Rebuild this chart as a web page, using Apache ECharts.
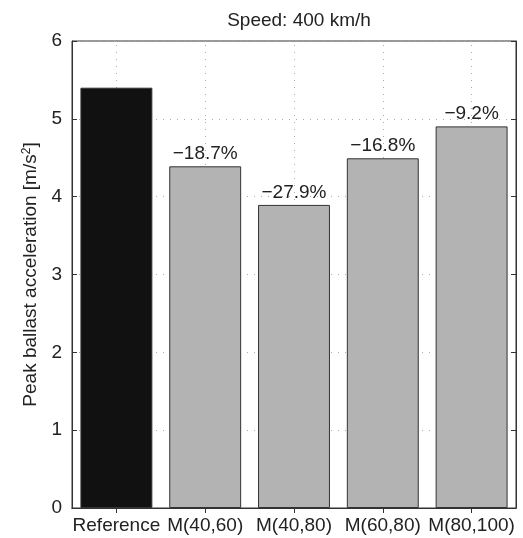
<!DOCTYPE html>
<html><head><meta charset="utf-8">
<script src="https://cdn.jsdelivr.net/npm/echarts@6/dist/echarts.min.js"></script>
<style>html,body{margin:0;padding:0;background:#fff}#c{width:523px;height:538px}</style>
</head><body><div id="c"></div>
<script>
const categories = ['Reference', 'M(40,60)', 'M(40,80)', 'M(60,80)', 'M(80,100)'];
const values = [5.40, 4.39, 3.894, 4.493, 4.903];
const pctLabels = ['', '\u221218.7%', '\u221227.9%', '\u221216.8%', '\u22129.2%'];
const yTicks = [0, 1, 2, 3, 4, 5, 6];

const chart = echarts.init(document.getElementById('c'));
const font = 'Liberation Sans, Arial, sans-serif';
const fs = 19;
const txt = '#222';
const dotStyle = {color: '#aaa', type: [1, 6], width: 1};
chart.setOption({
  animation: false,
  title: {text: 'Speed: 400 km/h', left: 294, textAlign: 'center', top: 6,
    textStyle: {fontFamily: font, fontSize: fs, fontWeight: 'normal', color: txt}},
  grid: {left: 72, right: 7, top: 41, bottom: 30, show: true, borderColor: '#333', borderWidth: 1, backgroundColor: 'transparent'},
  xAxis: [{
    type: 'category', data: categories, position: 'bottom',
    axisLine: {show: true, lineStyle: {color: '#333'}},
    axisTick: {show: true, inside: true, alignWithLabel: true, length: 5, lineStyle: {color: '#333'}},
    axisLabel: {fontFamily: font, fontSize: fs, color: txt, margin: 8, interval: 0},
    splitLine: {show: false}
  }, {
    type: 'category', data: categories, position: 'top',
    axisLine: {show: true, lineStyle: {color: '#333'}},
    axisTick: {show: true, inside: true, alignWithLabel: true, length: 5, lineStyle: {color: '#333'}},
    axisLabel: {show: false}, splitLine: {show: false}
  }],
  yAxis: [{
    type: 'value', min: yTicks[0], max: yTicks[yTicks.length - 1], interval: 1,
    name: '{n|Peak ballast acceleration [m/s}{s|2}{n|]}', nameLocation: 'middle', nameGap: 28, nameRotate: 90,
    nameTextStyle: {fontFamily: font, fontSize: fs, color: txt,
      rich: {n: {fontFamily: font, fontSize: fs, color: txt}, s: {fontFamily: font, fontSize: 12, color: txt, verticalAlign: 'top', padding: [0, 0, 8, 0]}}},
    axisLine: {show: true, lineStyle: {color: '#333'}},
    axisTick: {show: true, inside: true, length: 5, lineStyle: {color: '#333'}},
    axisLabel: {fontFamily: font, fontSize: fs, color: txt, margin: 10},
    splitLine: {show: true, lineStyle: dotStyle}
  }, {
    type: 'value', min: yTicks[0], max: yTicks[yTicks.length - 1], interval: 1, position: 'right',
    axisLine: {show: true, lineStyle: {color: '#333'}},
    axisTick: {show: true, inside: true, length: 5, lineStyle: {color: '#333'}},
    axisLabel: {show: false}, splitLine: {show: false}
  }],
  series: [{
    type: 'line', xAxisIndex: 0, yAxisIndex: 0, z: 1, data: [], silent: true,
    markLine: {
      z: 1, silent: true, symbol: 'none', label: {show: false},
      lineStyle: dotStyle,
      data: categories.map(c => ({xAxis: c}))
    }
  }, {
    type: 'bar', xAxisIndex: 0, yAxisIndex: 0, z: 3,
    barCategoryGap: '19%',
    data: values.map((v, i) => ({
      value: v,
      itemStyle: {color: i === 0 ? '#111' : '#b3b3b3', borderColor: '#333', borderWidth: 1}
    })),
    label: {show: true, position: 'top', distance: 3, fontFamily: font, fontSize: fs, color: txt,
      formatter: p => pctLabels[p.dataIndex]}
  }]
});
</script></body></html>
